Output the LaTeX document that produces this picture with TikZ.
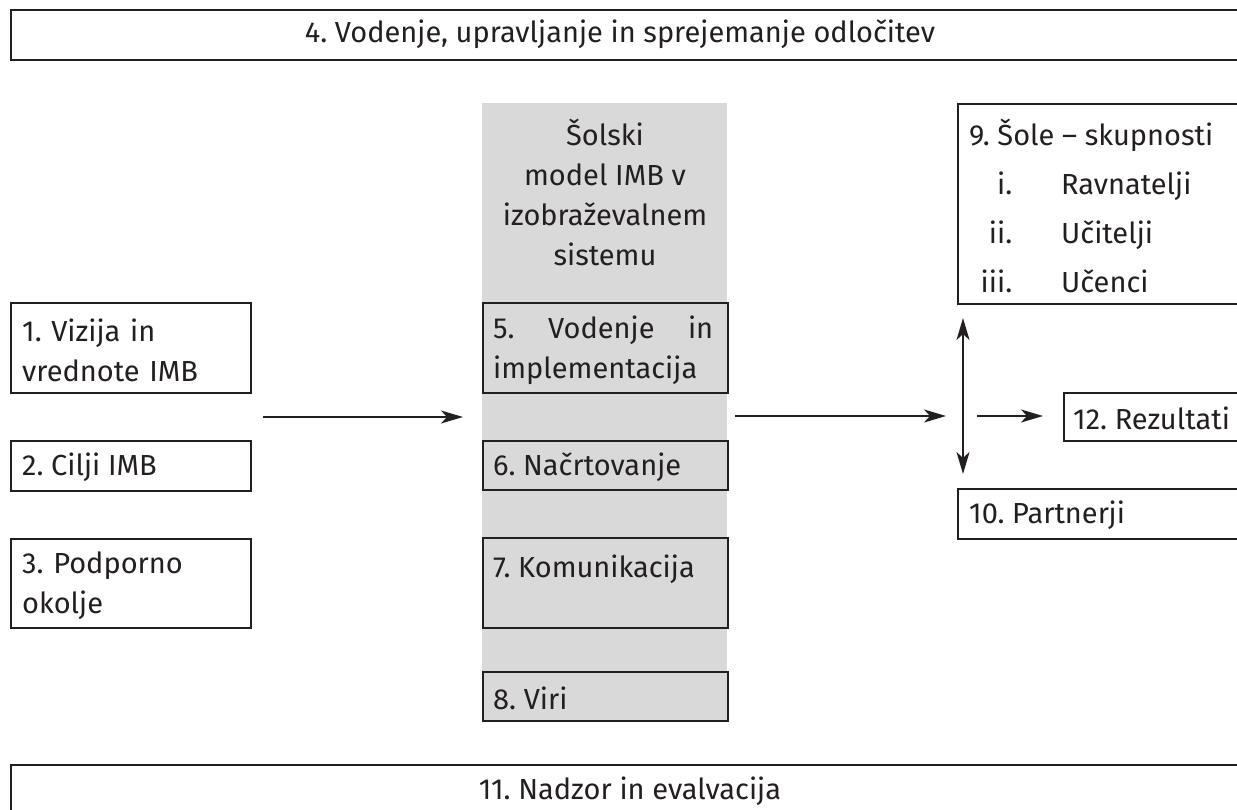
\documentclass[tikz,border=0pt]{standalone}
\usepackage{fontspec}
\setmainfont{Fira Sans}
\usetikzlibrary{arrows.meta}
\definecolor{ink}{HTML}{231F20}
\definecolor{colgray}{HTML}{D9D9D9}
\tikzset{
  frame/.style={draw=ink, line width=2pt, inner sep=0pt, anchor=north west},
  txt/.style={text=ink, font=\fontsize{29}{40}\selectfont\frenchspacing, inner sep=0pt},
  boxtxt/.style={txt, align=left, anchor=west},
  tip/.tip={Stealth[length=22pt,width=13pt,inset=6pt]},
  conn/.style={draw=ink, line width=1.8pt, -tip},
  dconn/.style={draw=ink, line width=1.8pt, tip-tip},
}
\begin{document}
\begin{tikzpicture}[x=1pt,y=-1pt]
\useasboundingbox (0,0) rectangle (1237,809);
\clip (0,0) rectangle (1237,809);
% gray column
\fill[colgray] (482,103) rectangle (727,720);
% top & bottom frames
\node[frame, minimum width=1240pt, minimum height=50pt] (top) at (10,9) {};
\node[txt] (toptext) at (620,34) {4. Vodenje, upravljanje in sprejemanje odločitev};
\node[frame, minimum width=1240pt, minimum height=60pt] (bot) at (10,764) {};
\node[txt] (bottext) at (630,791) {11. Nadzor in evalvacija};
% left boxes
\node[frame, minimum width=240pt, minimum height=90pt] (b1) at (10,302) {};
\node[boxtxt, text width=220pt] (b1t) at (22,350) {1. Vizija in\\vrednote IMB};
\node[frame, minimum width=240pt, minimum height=50pt] (b2) at (10,440) {};
\node[boxtxt] (b2t) at (22,467) {2. Cilji IMB};
\node[frame, minimum width=240pt, minimum height=89pt] (b3) at (10,538) {};
\node[boxtxt, text width=220pt] (b3t) at (22,586) {3. Podporno\\okolje};
% column
\node[txt, align=center] (colt) at (605,192) {Šolski\\model IMB v\\izobraževalnem\\sistemu};
\node[frame, minimum width=245pt, minimum height=90pt] (b5) at (482,302) {};
\node[boxtxt, text width=220pt] (b5t) at (493,350) {5.\hfill Vodenje\hfill in\\implementacija};
\node[frame, minimum width=245pt, minimum height=49pt] (b6) at (482,440) {};
\node[boxtxt] (b6t) at (493,467) {6. Načrtovanje};
\node[frame, minimum width=245pt, minimum height=90pt] (b7) at (482,537) {};
\node[boxtxt] (b7t) at (493,569) {7. Komunikacija};
\node[frame, minimum width=245pt, minimum height=49pt] (b8) at (482,671) {};
\node[boxtxt] (b8t) at (493,698) {8. Viri};
% right boxes
\node[frame, minimum width=300pt, minimum height=200pt] (b9) at (957,103) {};
\node[txt, align=left, anchor=west, font=\fontsize{29}{49}\selectfont\frenchspacing] (b9t) at (969,206)
  {9. Šole – skupnosti\\
   \makebox[43pt][r]{i.}\hspace{49pt}Ravnatelji\\
   \makebox[43pt][r]{ii.}\hspace{49pt}Učitelji\\
   \makebox[43pt][r]{iii.}\hspace{49pt}Učenci};
\node[frame, minimum width=200pt, minimum height=48pt] (b12) at (1063,392) {};
\node[boxtxt] (b12t) at (1073,418) {12. Rezultati};
\node[frame, minimum width=300pt, minimum height=50pt] (b10) at (957,488) {};
\node[boxtxt] (b10t) at (969,515) {10. Partnerji};
% connectors
\coordinate (a1s) at (263,417);
\coordinate (a1e) at (463,417);
\draw[conn] (a1s) -- (a1e);
\coordinate (a2s) at (735,416);
\coordinate (a2e) at (946,416);
\draw[conn] (a2s) -- (a2e);
\coordinate (vt) at (963,318);
\coordinate (vb) at (963,474);
\draw[dconn] (vb) -- (vt);
\coordinate (a3s) at (977,416);
\coordinate (a3e) at (1043,416);
\draw[conn] (a3s) -- (a3e);
\end{tikzpicture}
\end{document}
